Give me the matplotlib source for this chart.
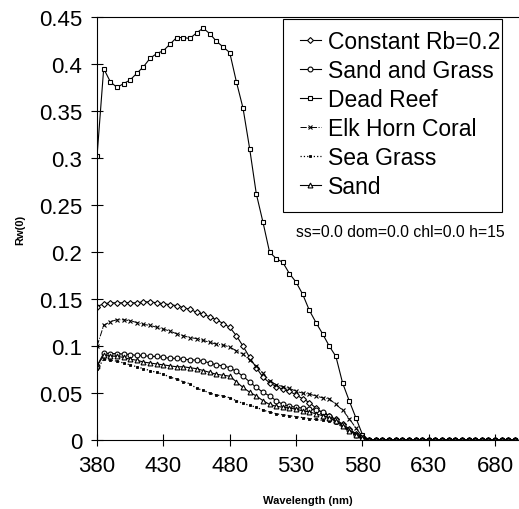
import numpy as np
import matplotlib
matplotlib.use('Agg')
import matplotlib.pyplot as plt
from matplotlib.patches import Rectangle

plt.rcParams['font.family'] = ['Liberation Sans', 'DejaVu Sans']

# wavelength grid (nm), one sample every 5 nm as in the original plot
wl = [380, 385, 390, 395, 400, 405, 410, 415, 420, 425, 430, 435, 440, 445, 450,
      455, 460, 465, 470, 475, 480, 485, 490, 495, 500, 505, 510, 515, 520, 525,
      530, 535, 540, 545, 550, 555, 560, 565, 570, 575, 580,
      585, 590, 595, 600, 605, 610, 615, 620, 625, 630, 635, 640, 645, 650,
      655, 660, 665, 670, 675, 680, 685, 690, 695]

# everything past 580 nm sits on zero
tail = [0.0, 0.0, 0.0, 0.0, 0.0, 0.0, 0.0, 0.0, 0.0, 0.0, 0.0, 0.0,
        0.0, 0.0, 0.0, 0.0, 0.0, 0.0, 0.0, 0.0, 0.0, 0.0, 0.0]

const_rb = [0.142, 0.145, 0.146, 0.146, 0.146, 0.146, 0.146, 0.147, 0.147, 0.146,
            0.145, 0.144, 0.143, 0.141, 0.139, 0.136, 0.134, 0.131, 0.128, 0.124,
            0.120, 0.111, 0.100, 0.088, 0.077, 0.067, 0.061, 0.057, 0.054, 0.052,
            0.048, 0.044, 0.040, 0.034, 0.029, 0.026, 0.022, 0.017, 0.012, 0.007,
            0.003] + tail
sand_grass = [0.079, 0.0925, 0.092, 0.092, 0.0915, 0.091, 0.090, 0.090, 0.089, 0.089,
              0.088, 0.087, 0.087, 0.086, 0.0855, 0.085, 0.084, 0.082, 0.080, 0.079,
              0.077, 0.073, 0.068, 0.062, 0.056, 0.051, 0.047, 0.042, 0.038, 0.036,
              0.035, 0.034, 0.033, 0.032, 0.030, 0.026, 0.021, 0.016, 0.011, 0.006,
              0.003] + tail
dead_reef = [0.302, 0.395, 0.381, 0.375, 0.379, 0.383, 0.390, 0.397, 0.406, 0.411,
             0.414, 0.421, 0.428, 0.428, 0.427, 0.433, 0.438, 0.432, 0.424, 0.418,
             0.412, 0.381, 0.353, 0.310, 0.262, 0.232, 0.200, 0.193, 0.189, 0.177,
             0.168, 0.155, 0.138, 0.125, 0.113, 0.100, 0.089, 0.061, 0.042, 0.024,
             0.006] + tail
elk_horn = [0.100, 0.122, 0.126, 0.128, 0.128, 0.127, 0.125, 0.123, 0.122, 0.120,
            0.118, 0.116, 0.113, 0.111, 0.109, 0.108, 0.106, 0.104, 0.102, 0.101,
            0.099, 0.095, 0.0915, 0.085, 0.079, 0.071, 0.063, 0.059, 0.057, 0.055,
            0.052, 0.050, 0.049, 0.047, 0.045, 0.044, 0.038, 0.032, 0.023, 0.013,
            0.004] + tail
sea_grass = [0.0755, 0.086, 0.085, 0.084, 0.082, 0.080, 0.078, 0.076, 0.074, 0.072,
             0.070, 0.067, 0.065, 0.062, 0.060, 0.055, 0.053, 0.050, 0.048, 0.047,
             0.045, 0.042, 0.039, 0.037, 0.035, 0.032, 0.030, 0.028, 0.027, 0.026,
             0.025, 0.024, 0.023, 0.022, 0.021, 0.0205, 0.018, 0.014, 0.010, 0.005,
             0.002] + tail
sand = [0.079, 0.090, 0.0895, 0.089, 0.088, 0.086, 0.085, 0.083, 0.082, 0.081,
        0.080, 0.079, 0.078, 0.078, 0.077, 0.076, 0.074, 0.072, 0.070, 0.069,
        0.068, 0.062, 0.056, 0.051, 0.047, 0.042, 0.038, 0.036, 0.035, 0.034,
        0.033, 0.031, 0.030, 0.028, 0.026, 0.024, 0.020, 0.015, 0.010, 0.006,
        0.002] + tail

xticks = [380, 430, 480, 530, 580, 630, 680]
yticks = [0, 0.05, 0.1, 0.15, 0.2, 0.25, 0.3, 0.35, 0.4, 0.45]
ytick_labels = ['0', '0.05', '0.1', '0.15', '0.2', '0.25', '0.3', '0.35', '0.4', '0.45']

fig = plt.figure(figsize=(5.19, 5.10), dpi=100)
ax = fig.add_axes([0.187, 0.135, 0.813, 0.83])

ms = 3.5
ax.plot(wl, const_rb, '-', color='black', lw=0.8, marker='D', ms=3, mfc='white', mew=0.8,
        label='Constant Rb=0.2')
ax.plot(wl, sand_grass, '-', color='black', lw=0.8, marker='o', ms=ms, mfc='white', mew=0.8,
        label='Sand and Grass')
ax.plot(wl, dead_reef, '-', color='black', lw=0.8, marker='s', ms=ms, mfc='white', mew=0.8,
        label='Dead Reef')
ax.plot(wl, elk_horn, '-.', color='black', lw=0.7, marker='x', ms=2.5, mew=0.8,
        label='Elk Horn Coral')
ax.plot(wl, sea_grass, ':', color='black', lw=0.9, marker='s', ms=1.8, mfc='black', mew=0.6,
        label='Sea Grass')
ax.plot(wl, sand, '-', color='black', lw=0.8, marker='^', ms=ms, mfc='white', mew=0.8,
        label='Sand')

ax.set_xlim(380, 698)
ax.set_ylim(0, 0.45)
ax.set_xticks(xticks)
ax.set_yticks(yticks)
ax.set_yticklabels(ytick_labels)
ax.tick_params(direction='inout', length=9, width=0.8, labelsize=16, pad=6)
ax.spines['right'].set_visible(False)
for s in ['left', 'bottom', 'top']:
    ax.spines[s].set_linewidth(0.8)

ax.set_xlabel('Wavelength (nm)', fontsize=8, fontweight='bold', labelpad=14)
ax.set_ylabel('Rw(0)', fontsize=8, fontweight='bold', labelpad=10)

# legend entries without their own frame, the box is drawn separately (uneven padding)
leg = ax.legend(loc='upper right', bbox_to_anchor=(0.955, 0.97), fontsize=16.5,
                handlelength=0.9, handletextpad=0.3, labelspacing=0.27,
                frameon=False, borderpad=0.0, borderaxespad=0.0)
ax.add_patch(Rectangle((0.441, 0.5386), 0.519, 0.456, transform=ax.transAxes,
                       fill=False, edgecolor='black', lw=0.8, zorder=4))

ax.text(0.965, 0.494, 'ss=0.0 dom=0.0 chl=0.0 h=15', transform=ax.transAxes,
        ha='right', va='center', fontsize=11.3)

fig.savefig('out.png', dpi=100)
